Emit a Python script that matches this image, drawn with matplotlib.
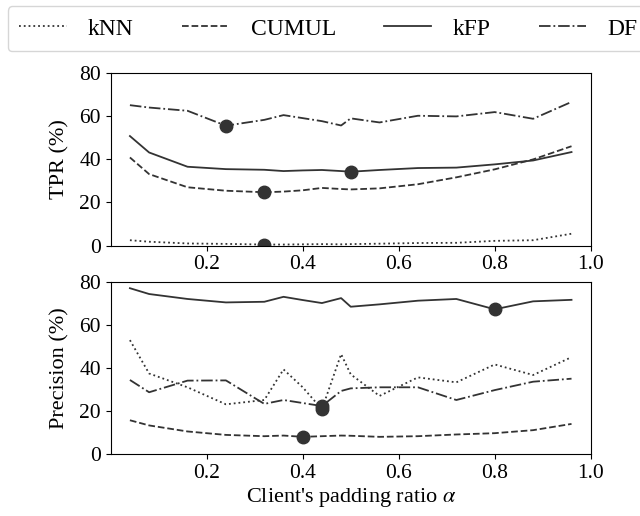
import matplotlib
matplotlib.use('Agg')
import matplotlib.pyplot as plt

plt.rcParams['font.family'] = ['Liberation Serif', 'DejaVu Serif']
plt.rcParams['mathtext.fontset'] = 'stix'

# padding ratio alpha
alpha = [0.04, 0.08, 0.16, 0.24, 0.32, 0.36, 0.40, 0.44, 0.48, 0.50, 0.56, 0.64, 0.72, 0.80, 0.88, 0.96]

# TPR (%)
tpr_knn = [2.5, 1.8, 1.0, 0.8, 0.5, 0.5, 0.6, 0.7, 0.6, 0.7, 0.9, 1.2, 1.3, 2.2, 2.5, 5.5]
tpr_cumul = [40.8, 33.1, 27.0, 25.4, 24.7, 25.0, 25.6, 26.7, 26.2, 26.0, 26.5, 28.4, 31.6, 35.3, 39.9, 46.0]
tpr_kfp = [50.7, 43.1, 36.5, 35.4, 35.1, 34.5, 34.8, 35.0, 34.5, 34.2, 35.0, 35.9, 36.1, 37.6, 39.4, 43.3]
tpr_df = [65.0, 63.9, 62.4, 55.5, 58.2, 60.4, 59.0, 57.6, 55.6, 58.9, 57.0, 60.1, 59.8, 61.8, 58.7, 66.5]

# Precision (%)
prec_knn = [52.9, 37.4, 31.0, 23.1, 25.1, 39.3, 31.0, 20.8, 46.4, 37.0, 27.0, 35.6, 33.3, 41.6, 36.7, 45.0]
prec_cumul = [15.7, 13.3, 10.5, 8.9, 8.3, 8.6, 8.0, 8.3, 8.6, 8.5, 8.0, 8.3, 9.1, 9.7, 11.1, 14.0]
prec_kfp = [77.0, 74.3, 72.0, 70.4, 70.7, 73.0, 71.5, 70.1, 72.4, 68.4, 69.5, 71.2, 72.0, 67.2, 70.9, 71.6]
prec_df = [34.4, 28.7, 34.1, 34.2, 23.3, 25.1, 23.7, 22.3, 29.3, 30.5, 31.0, 31.0, 25.1, 29.7, 33.6, 35.0]

names = ['kNN', 'CUMUL', 'kFP', 'DF']
styles = [':', '--', '-', '-.']

# highlighted alpha per attack
tpr_mark = [0.32, 0.32, 0.50, 0.24]
prec_mark = [0.44, 0.40, 0.80, 0.44]

col = '#333333'

fig = plt.figure(figsize=(6.4, 5.16), dpi=100)
ax1 = fig.add_axes([0.173, 0.524, 0.75, 0.335])
ax2 = fig.add_axes([0.173, 0.120, 0.75, 0.334])

for ax, series, marks, ylab in [
        (ax1, [tpr_knn, tpr_cumul, tpr_kfp, tpr_df], tpr_mark, 'TPR (%)'),
        (ax2, [prec_knn, prec_cumul, prec_kfp, prec_df], prec_mark, 'Precision (%)')]:
    for s, ls, name, m in zip(series, styles, names, marks):
        ax.plot(alpha, s, ls, color=col, lw=1.3, label=name)
        i = alpha.index(m)
        ax.plot(alpha[i], s[i], 'o', color=col, ms=9)
    ax.set_xlim(0, 1)
    ax.set_ylim(0, 80)
    ax.set_xticks([0.2, 0.4, 0.6, 0.8, 1.0])
    ax.set_yticks([0, 20, 40, 60, 80])
    ax.tick_params(labelsize=15.5)
    ax.set_ylabel(ylab, fontsize=16, labelpad=7)

ax2.set_xlabel("Client's padding ratio $\\alpha$", fontsize=16, labelpad=2)

# legend spans the top, its right end runs off the figure like the original
h, l = ax1.get_legend_handles_labels()
fig.legend(h, l, ncol=4, loc='upper left', bbox_to_anchor=(0.012, 0.988),
           borderaxespad=0, fontsize=17, handlelength=2.0, columnspacing=2.05,
           handletextpad=0.9, borderpad=0.5)

fig.savefig('out.png', dpi=100)
